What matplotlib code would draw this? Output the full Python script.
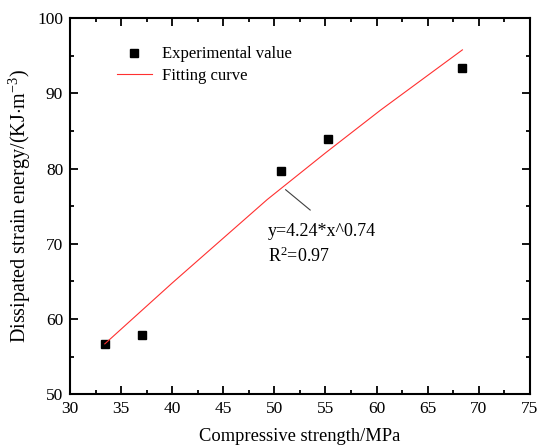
import numpy as np
import matplotlib.pyplot as plt
from matplotlib.ticker import MultipleLocator

plt.rcParams['font.family'] = ['Liberation Serif', 'DejaVu Serif']
plt.rcParams['mathtext.fontset'] = 'custom'
plt.rcParams['mathtext.rm'] = 'Liberation Serif'
plt.rcParams['mathtext.it'] = 'Liberation Serif:italic'

# experimental points
strength = [33.4, 37.0, 50.6, 55.2, 68.4]
energy = [56.7, 57.9, 79.7, 84.0, 93.4]

# fitting curve
fit_x = [33.4, 40.0, 49.3, 55.0, 60.4, 68.4]
fit_y = [56.7, 64.8, 75.9, 82.1, 87.8, 95.8]

fig = plt.figure(figsize=(5.39, 4.46), dpi=100)
ax = fig.add_axes([0.130, 0.116, 0.853, 0.843])

ax.plot(strength, energy, 's', color='black', ms=6, label='Experimental value')
ax.plot(fit_x, fit_y, '-', color='#ff3030', lw=0.8, label='Fitting curve')

ax.set_xlim(30, 75)
ax.set_ylim(50, 100)
ax.xaxis.set_major_locator(MultipleLocator(5))
ax.xaxis.set_minor_locator(MultipleLocator(2.5))
ax.yaxis.set_major_locator(MultipleLocator(10))
ax.yaxis.set_minor_locator(MultipleLocator(5))
ax.tick_params(which='both', direction='in', top=True, right=True, labelsize=12.5, width=1.3)
ax.tick_params(which='major', length=6, pad=5)
ax.tick_params(which='minor', length=3)
for s in ax.spines.values():
    s.set_linewidth(1.5)

ax.set_xlabel('Compressive strength/MPa', fontsize=13.3, labelpad=8)
ax.set_ylabel(r'Dissipated strain energy/(KJ$\cdot$m$^{-3}$)', fontsize=14.5)
ax.yaxis.set_label_coords(-0.08, 0.5)

ax.legend(loc='upper left', bbox_to_anchor=(0.102, 0.925), frameon=False,
          fontsize=12, borderpad=0, borderaxespad=0, handlelength=2.1,
          handletextpad=0.6, labelspacing=0.35, numpoints=1)

# annotation of the fit
ax.plot([51.1, 53.5], [77.2, 74.5], '-', color='#404040', lw=0.8)
ax.text(49.4, 71.6, 'y=4.24*x^0.74', fontsize=13, va='center', ha='left')
ax.text(49.4, 68.3, r'R$^{2}$=0.97', fontsize=13, va='center', ha='left')

fig.savefig('out.png', dpi=100)
